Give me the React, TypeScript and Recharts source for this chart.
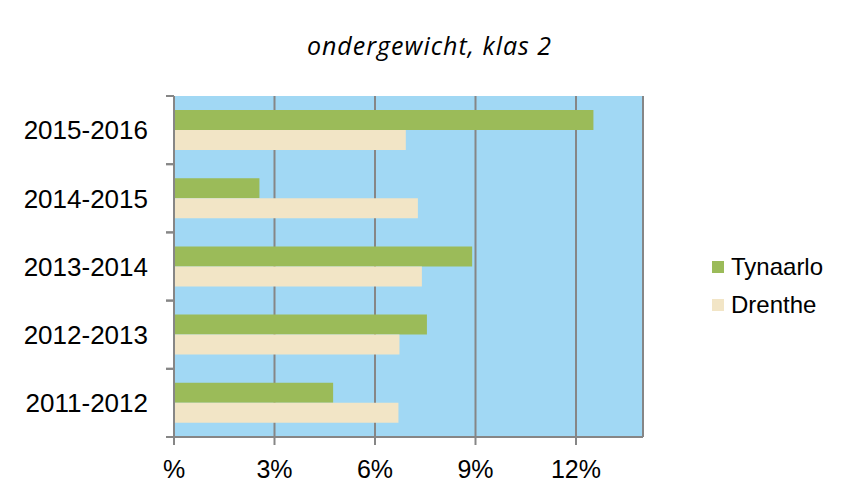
import React from 'react'
import { BarChart, Bar, XAxis, YAxis, CartesianGrid, Legend } from 'recharts'

// categories top to bottom, as in the picture
const periods = ['2015-2016', '2014-2015', '2013-2014', '2012-2013', '2011-2012']
const tynaarlo = [12.52, 2.55, 8.9, 7.55, 4.75]
const drenthe = [6.92, 7.28, 7.4, 6.73, 6.7]
const seriesNames = ['Tynaarlo', 'Drenthe']
const xTicks = [0, 3, 6, 9, 12]
const xTickLabels = ['%', '3%', '6%', '9%', '12%']

const data = periods.map((p, i) => ({ period: p, Tynaarlo: tynaarlo[i], Drenthe: drenthe[i] }))

const GREEN = '#9BBB59'
const CREAM = '#F2E5C6'
const GREY = '#868686'
const FONT = '"Liberation Sans", Arial, sans-serif'
const Y_TICK_SIZE = 8
const Y_TICK_MARGIN = 18

// category label plus Excel-style tick marks on the band edges
const CategoryTick = ({ x, y, payload }: any) => {
    const axisX = x + Y_TICK_MARGIN + Y_TICK_SIZE
    const half = payload?.offset || 0
    return (
        <g>
            <line x1={axisX - Y_TICK_SIZE} x2={axisX} y1={y - half} y2={y - half} stroke={GREY} strokeWidth={2} />
            <line x1={axisX - Y_TICK_SIZE} x2={axisX} y1={y + half} y2={y + half} stroke={GREY} strokeWidth={2} />
            <text x={x} y={y} dy="0.355em" textAnchor="end" fontSize={26} fill="#000" fontFamily={FONT}>
                {payload.value}
            </text>
        </g>
    )
}

// legend in series order (Tynaarlo first)
const LegendList = ({ payload }: any) => {
    const items = [...(payload || [])].sort(
        (a: any, b: any) => seriesNames.indexOf(a.value) - seriesNames.indexOf(b.value)
    )
    return (
        <div style={{ fontFamily: FONT, fontSize: 24, color: '#000' }}>
            {items.map((item: any) => (
                <div key={item.value} style={{ display: 'flex', alignItems: 'center', height: 38 }}>
                    <span style={{ width: 12, height: 12, background: item.color, marginRight: 7, display: 'inline-block' }} />
                    {item.value}
                </div>
            ))}
        </div>
    )
}

export default function App() {
    return (
        // frame at page (4,4); content origin ends up at (7,7)
        <div
            style={{
                position: 'relative',
                marginLeft: -4,
                marginTop: -4,
                width: 860,
                height: 520,
                border: '3px solid #8a8a8a',
                background: '#fff',
            }}
        >
            <div
                style={{
                    position: 'absolute',
                    left: -7,
                    width: 859,
                    top: 21,
                    textAlign: 'center',
                    fontFamily: '"Open Sans", sans-serif',
                    fontStyle: 'italic',
                    fontSize: 25,
                    letterSpacing: 1,
                    color: '#000',
                }}
            >
                ondergewicht, klas 2
            </div>
            <div style={{ position: 'absolute', left: -7, top: -7 }}>
                <BarChart
                    width={842}
                    height={500}
                    data={data}
                    layout="vertical"
                    margin={{ top: 96, right: 199, bottom: 0, left: 0 }}
                    barGap={0}
                >
                    <CartesianGrid
                        horizontal={false}
                        vertical
                        fill="#A1D8F4"
                        fillOpacity={1}
                        stroke={GREY}
                        strokeWidth={2}
                    />
                    <XAxis
                        type="number"
                        domain={[0, 14]}
                        ticks={xTicks}
                        tickFormatter={(v: number) => xTickLabels[xTicks.indexOf(v)]}
                        height={63}
                        tickSize={8}
                        tickMargin={15}
                        axisLine={{ stroke: GREY, strokeWidth: 2 }}
                        tickLine={{ stroke: GREY, strokeWidth: 2 }}
                        tick={{ fontSize: 25, fill: '#000', fontFamily: FONT }}
                        allowDataOverflow
                    />
                    <YAxis
                        type="category"
                        dataKey="period"
                        width={174}
                        axisLine={{ stroke: GREY, strokeWidth: 2 }}
                        tickLine={false}
                        tickSize={Y_TICK_SIZE}
                        tickMargin={Y_TICK_MARGIN}
                        interval={0}
                        tick={<CategoryTick />}
                    />
                    <Legend
                        content={<LegendList />}
                        layout="horizontal"
                        align="center"
                        verticalAlign="middle"
                        wrapperStyle={{ left: 712, top: 248, width: 130 }}
                    />
                    <Bar dataKey="Tynaarlo" fill={GREEN} barSize={20} isAnimationActive={false} />
                    <Bar dataKey="Drenthe" fill={CREAM} barSize={20} isAnimationActive={false} />
                </BarChart>
            </div>
        </div>
    )
}
